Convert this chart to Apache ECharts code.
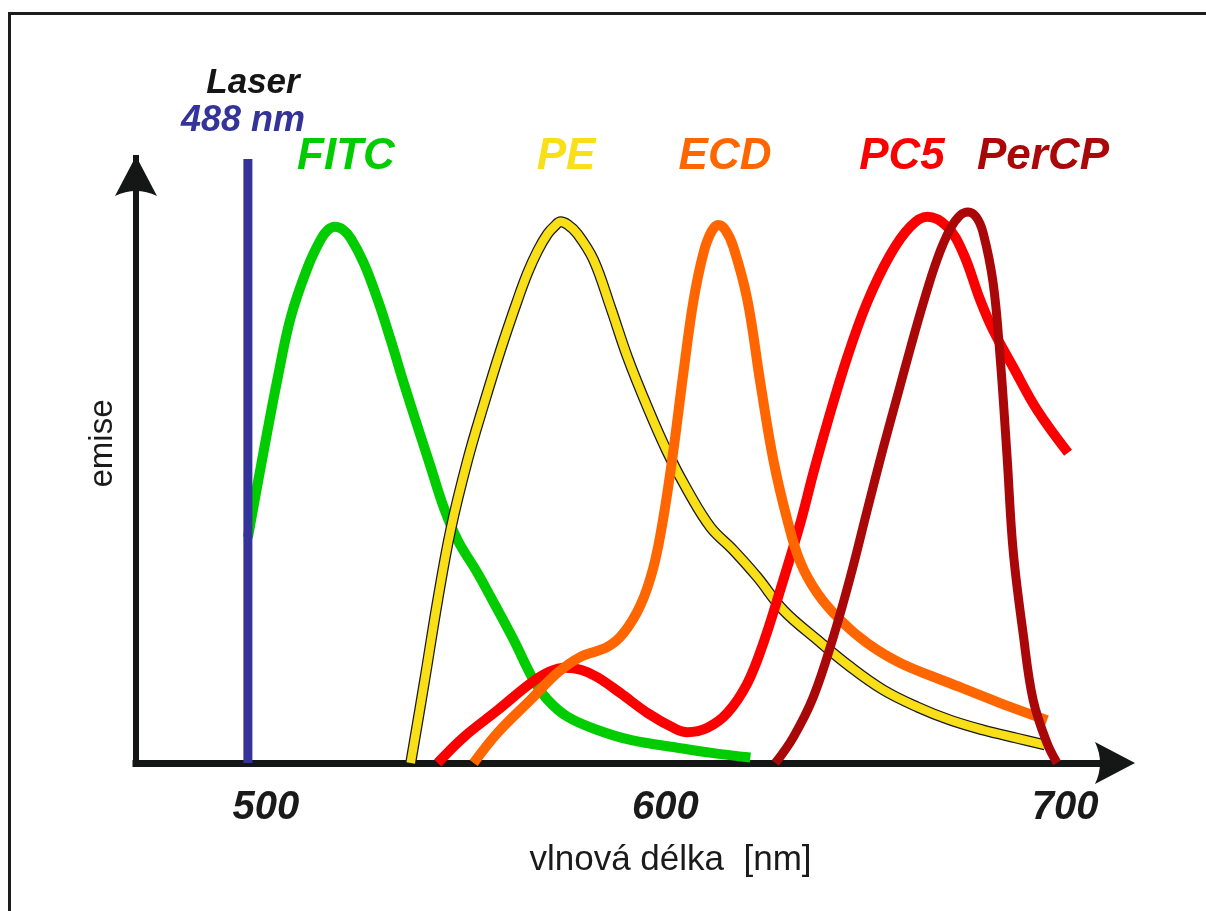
<!DOCTYPE html>
<html>
<head>
<meta charset="utf-8">
<script src="https://cdn.jsdelivr.net/npm/echarts@6/dist/echarts.min.js"></script>
<style>
  html, body { margin: 0; padding: 0; background: #ffffff; }
  #chart { width: 1206px; height: 911px; }
</style>
</head>
<body>
<div id="chart"></div>
<script>
// ---- data (wavelength nm, relative emission) ----
const xTickValues = [500, 600, 700];
const laserNm = 495.5;
const laserLine = [[laserNm, 0], [laserNm, 109.8]];

const fitc = [
  [495.5, 41], [499.5, 56.9], [503, 70.2], [506.25, 81.1], [510.5, 90.2], [513.75, 95.2],
  [515.5, 96.9], [517.25, 97.5], [519.25, 97.0], [521.25, 95.4], [524.5, 90.9], [528, 84.2],
  [531.25, 76.9], [534.5, 69.1], [538, 61.1], [541.25, 53.8], [544.5, 46.5], [548, 40.5],
  [553, 34.5], [556.25, 30.2], [562, 22.4], [567, 15.1], [570.5, 11.5], [575.5, 8.4],
  [583, 6.0], [591.25, 4.2], [603.75, 2.7], [612, 1.8], [621.25, 1.0]
];
const pe = [
  [536.25, 0], [539.75, 15.1], [543, 29.6], [546.25, 42.4], [550.5, 55.1], [554.5, 65.1],
  [558.75, 75.1], [563, 84.2], [565.5, 89.1], [568, 93.1], [570.5, 96.2], [572.25, 97.6],
  [573.75, 98.4], [575.5, 97.9], [578, 96.2], [582, 91.5], [586.25, 82.9], [590.5, 73.8],
  [595.5, 64.7], [600.5, 56.5], [605.5, 49.6], [611.25, 42.9], [617, 38.7], [623, 33.8],
  [629.5, 27.8], [638, 22.4], [646.25, 17.5], [654.5, 13.3], [663, 10.2], [671.25, 7.8],
  [679.5, 6.0], [688, 4.5], [695, 3.3]
];
const ecd = [
  [552, 0], [558, 5.5], [566.25, 11.5], [573, 16.4], [578.75, 19.3], [585.5, 21.1],
  [589.5, 23.6], [593.75, 28.7], [597, 35.6], [599.5, 44.7], [602, 56.9], [604.5, 71],
  [607, 84], [609.5, 92.7], [611.5, 96.6], [613.25, 97.8], [615, 96.9], [617, 93.8],
  [620.5, 84.2], [623.75, 69.1], [627, 55.1], [630.5, 44.2], [633.75, 36.5], [638, 30.9],
  [643.75, 26], [650.5, 21.8], [658.75, 18.2], [671.25, 14.5], [683.75, 10.9], [695.5, 7.8]
];
const pc5 = [
  [543, 0], [549.5, 4.7], [558, 9.6], [566.25, 14.5], [571, 16.6], [575, 17.3], [579, 16.9],
  [583, 15.6], [588.75, 12.7], [595.5, 9.1], [602, 6.4], [605.5, 5.6], [610.5, 6.4],
  [615.5, 9.1], [620.5, 14.5], [624.5, 21.8], [628.75, 31.5], [633.75, 43.6], [637, 52.7],
  [640.5, 61.8], [645.5, 73.8], [650.5, 83.8], [656.25, 92.4], [661.25, 97.5], [665.5, 99.3],
  [670.5, 97.5], [674.5, 92.7], [678.75, 84.2], [682, 78.7], [687, 72], [693, 64.2], [700.75, 56.4]
];
const percp = [
  [627.5, 0], [632, 4.7], [637, 12], [642, 22.9], [646.25, 33.8], [650.5, 46],
  [654.5, 57.3], [658.25, 67.3], [661.25, 75.3], [664.5, 83.6], [668, 91.6], [671.25, 97.1],
  [673.75, 99.6], [675.75, 100.2], [677.75, 99.3], [679.5, 96.4], [682, 87.3], [683.75, 73.8],
  [685.5, 55.6], [687, 38.7], [689.5, 23.6], [692, 11.5], [695.5, 3.6], [698, 0]
];

const dyeNames = ['FITC', 'PE', 'ECD', 'PC5', 'PerCP'];
const dyeColors = ['#00cc00', '#f8df18', '#ff6600', '#fb0000', '#aa0808'];

const chart = echarts.init(document.getElementById('chart'), null, { renderer: 'canvas' });

const arrowPath = 'path://M21,0 L42,40 Q21,30 0,40 Z';
const axisColor = '#151716';

function lineSeries(name, data, color, width, z) {
  return {
    name: name, type: 'line', data: data, smooth: 0.38, showSymbol: false,
    symbol: 'none', clip: false, z: z, silent: true,
    lineStyle: { color: color, width: width, cap: 'butt', join: 'round' }
  };
}

const labelFont = 'italic bold 44px "Liberation Sans", Arial, sans-serif';
const labelPos = [[346, 157], [566, 157], [725, 157], [902, 157], [1043, 157]];

const graphics = [
  { type: 'rect', shape: { x: 9.5, y: 13.5, width: 1300, height: 1000 },
    style: { fill: 'none', stroke: '#1c1c1c', lineWidth: 3 }, silent: true, z: 100 },
  { type: 'text', x: 253, y: 83, silent: true, z: 100,
    style: { text: 'Laser', fill: '#151515', font: 'italic bold 35px "Liberation Sans", Arial, sans-serif', align: 'center', verticalAlign: 'middle' } },
  { type: 'text', x: 243, y: 121, silent: true, z: 100,
    style: { text: '488 nm', fill: '#333399', font: 'italic bold 36px "Liberation Sans", Arial, sans-serif', align: 'center', verticalAlign: 'middle' } }
];
dyeNames.forEach(function (n, i) {
  graphics.push({ type: 'text', x: labelPos[i][0], y: labelPos[i][1], silent: true, z: 100,
    style: { text: n, fill: dyeColors[i], font: labelFont, align: 'center', verticalAlign: 'middle' } });
});

chart.setOption({
  animation: false,
  backgroundColor: '#ffffff',
  grid: { left: 136, right: 91, top: 158, bottom: 148, containLabel: false, outerBoundsMode: 'none' },
  xAxis: {
    type: 'value', min: 467.5, max: 712.5,
    name: 'vlnová délka  [nm]', nameLocation: 'middle', nameGap: 80,
    nameTextStyle: { fontFamily: '"Liberation Sans", Arial, sans-serif', fontSize: 35, color: '#1a1a1a', padding: [0, 0, 0, 90] },
    axisLine: { show: true, symbol: ['none', arrowPath], symbolSize: [42, 52], symbolOffset: [0, 0],
      lineStyle: { color: axisColor, width: 7, cap: 'square' } },
    axisTick: { show: false },
    splitLine: { show: false },
    axisLabel: { show: true, customValues: xTickValues, margin: 25,
      fontFamily: '"Liberation Sans", Arial, sans-serif', fontSize: 40, fontWeight: 'bold', fontStyle: 'italic', color: '#1a1a1a' }
  },
  yAxis: {
    type: 'value', min: 0, max: 110,
    name: 'emise', nameLocation: 'middle', nameGap: 17, nameRotate: 90,
    nameTextStyle: { fontFamily: '"Liberation Sans", Arial, sans-serif', fontSize: 33, color: '#1a1a1a', padding: [0, 0, 0, 34] },
    axisLine: { show: true, symbol: ['none', arrowPath], symbolSize: [42, 40], symbolOffset: [0, -18],
      lineStyle: { color: axisColor, width: 6, cap: 'square' } },
    axisTick: { show: false },
    splitLine: { show: false },
    axisLabel: { show: false }
  },
  graphic: graphics,
  series: [
    lineSeries('FITC', fitc, dyeColors[0], 10, 2),
    lineSeries('PE outline', pe, '#1a1a1a', 11, 3),
    lineSeries('PE', pe, dyeColors[1], 8.5, 4),
    lineSeries('PC5', pc5, dyeColors[3], 10, 5),
    lineSeries('ECD', ecd, dyeColors[2], 10, 6),
    lineSeries('PerCP', percp, dyeColors[4], 9, 7),
    lineSeries('Laser 488 nm', laserLine, '#333399', 9, 8)
  ]
});
</script>
</body>
</html>
